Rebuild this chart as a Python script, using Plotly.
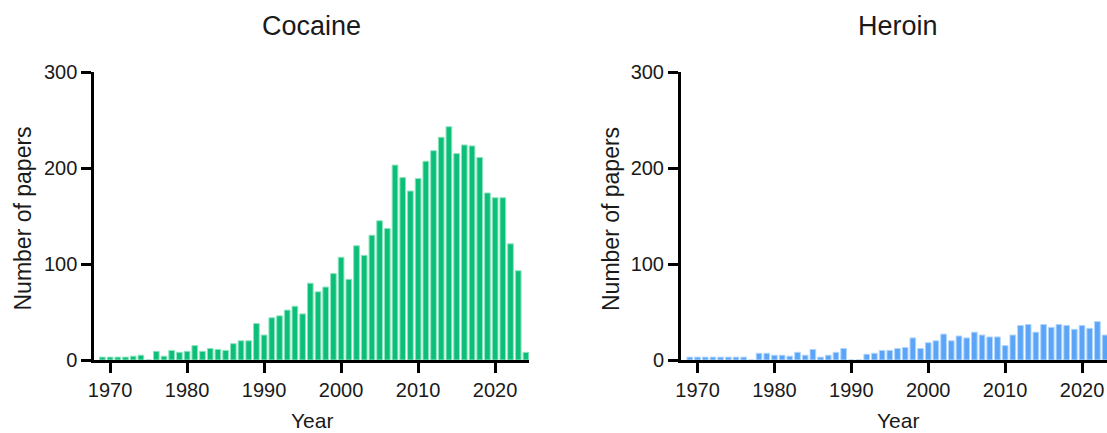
import plotly.graph_objects as go

# Publication counts per year
years = list(range(1969, 2025))

cocaine = [3, 3, 3, 3, 4, 5, 0, 9, 4, 10,
           8, 9, 15, 9, 12, 11, 10, 17, 20, 20,
           38, 26, 44, 46, 52, 56, 48, 80, 71, 76,
           90, 107, 84, 119, 109, 130, 145, 137, 203, 190,
           176, 189, 207, 218, 232, 243, 215, 224, 223, 211,
           174, 169, 169, 121, 93, 8]

heroin_years = list(range(1969, 2024))
heroin = [3, 3, 3, 3, 3, 3, 3, 3, 0, 7,
          7, 5, 5, 4, 8, 5, 11, 3, 5, 8,
          12, 0, 0, 6, 7, 10, 10, 12, 13, 23,
          12, 18, 20, 27, 20, 25, 23, 29, 26, 24,
          24, 15, 26, 36, 37, 29, 37, 34, 37, 36,
          32, 36, 33, 40, 26]

panel_titles = ["Cocaine", "Heroin"]
x_ticks = [1970, 1980, 1990, 2000, 2010, 2020]
y_ticks = [0, 100, 200, 300]

W, H = 1107, 433
FONT = "Liberation Sans, Arial, Helvetica, sans-serif"
INK = "#1a1a1a"
GREEN = "#0bbf78"
BLUE = "#5ba5f8"


def px(x):
    return x / W


def py(y):
    return 1 - y / H


fig = go.Figure()
fig.add_trace(go.Bar(x=years, y=cocaine, width=0.74,
                     marker=dict(color=GREEN, line=dict(color="#8fe3bf", width=1)),
                     xaxis="x", yaxis="y", showlegend=False))
fig.add_trace(go.Bar(x=heroin_years, y=heroin, width=0.74,
                     marker=dict(color=BLUE, line=dict(color="#b3d5fc", width=1)),
                     xaxis="x2", yaxis="y2", showlegend=False))

axis_common = dict(showgrid=False, zeroline=False, showline=True, linecolor="black",
                   linewidth=3, ticks="outside", ticklen=10, tickwidth=3,
                   tickcolor="black", automargin=False,
                   tickfont=dict(family=FONT, size=20, color=INK))

y_dom = [py(360), py(72)]
fig.update_layout(
    width=W, height=H,
    margin=dict(l=0, r=0, t=0, b=0, autoexpand=False),
    plot_bgcolor="white", paper_bgcolor="white",
    bargap=0.26,
    xaxis=dict(domain=[px(94.3), px(529)], range=[1967.95, 2024.4],
               tickvals=x_ticks, anchor="y", **axis_common),
    yaxis=dict(domain=y_dom, range=[0, 300], tickvals=y_ticks, anchor="x",
               **axis_common),
    xaxis2=dict(domain=[px(681), 1.0], range=[1967.85, 2023.25],
                tickvals=x_ticks, anchor="y2", **axis_common),
    yaxis2=dict(domain=y_dom, range=[0, 300], tickvals=y_ticks, anchor="x2",
                **axis_common),
)

ann = []
for title, cx, ylab_x in [(panel_titles[0], 311.5, 22.5), (panel_titles[1], 897.5, 611)]:
    ann.append(dict(text=title, x=px(cx), y=py(26), xref="paper", yref="paper",
                    xanchor="center", yanchor="middle", showarrow=False,
                    font=dict(family=FONT, size=27, color=INK)))
    ann.append(dict(text="Year", x=px(cx), y=py(420), xref="paper", yref="paper",
                    xanchor="center", yanchor="middle", showarrow=False,
                    font=dict(family=FONT, size=21, color=INK)))
    ann.append(dict(text="Number of papers", x=px(ylab_x), y=py(219), xref="paper",
                    yref="paper", xanchor="center", yanchor="middle", textangle=-90,
                    showarrow=False, font=dict(family=FONT, size=23, color=INK)))
fig.update_layout(annotations=ann)

fig.write_html("out.html")
